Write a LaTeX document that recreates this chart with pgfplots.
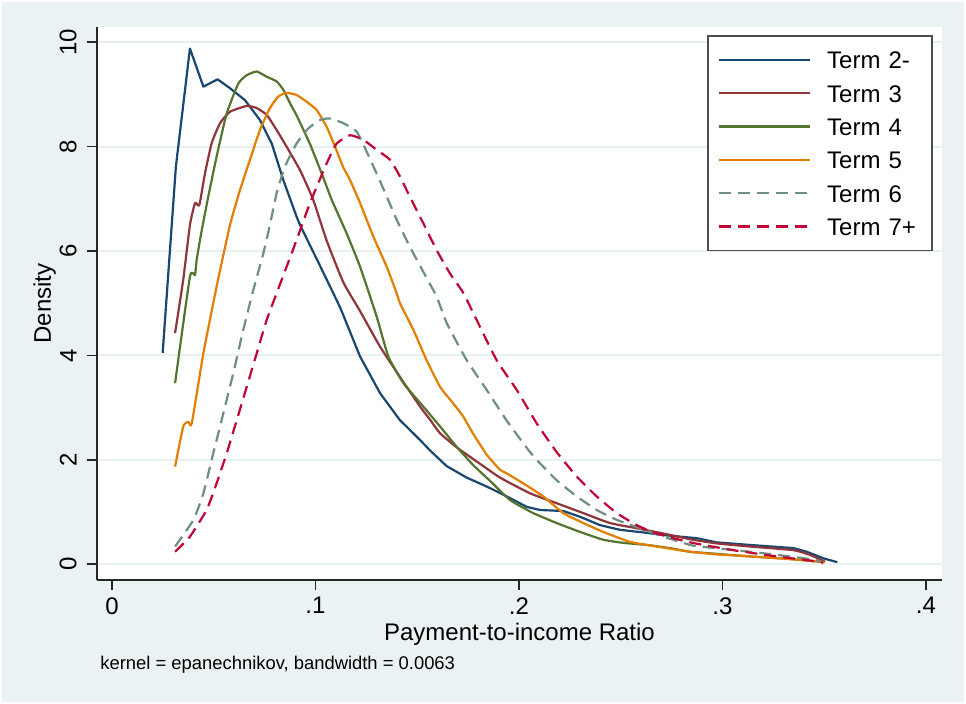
\documentclass[border=0pt]{standalone}
\usepackage{fontspec}
\setmainfont{Liberation Sans}
\usepackage{pgfplots}
\pgfplotsset{compat=1.18}
\definecolor{bgc}{RGB}{234,242,243}
\definecolor{gridc}{RGB}{232,240,242}
\definecolor{snavy}{RGB}{26,71,111}
\definecolor{smaroon}{RGB}{144,53,59}
\definecolor{sgreen}{RGB}{85,117,47}
\definecolor{sorange}{RGB}{227,126,0}
\definecolor{steal}{RGB}{110,142,132}
\definecolor{scran}{RGB}{193,5,52}
\begin{document}
\begin{tikzpicture}
\fill[white] (0,0) rectangle (483pt,352pt);
\fill[bgc] (1pt,1pt) rectangle (482pt,351pt);
\begin{axis}[
  at={(48.5pt,62pt)}, anchor=south west,
  scale only axis, width=422.5pt, height=276.5pt,
  xmin=-0.00737, xmax=0.40786, ymin=-0.301, ymax=10.293,
  axis background/.style={fill=white},
  axis lines*=left,
  axis line style={line width=0.8pt, color=black!85},
  xtick={0,0.1,0.2,0.3,0.4}, xticklabels={0,.1,.2,.3,.4},
  ytick={0,2,4,6,8,10}, yticklabels={0,2,4,6,8,10},
  tick align=outside, major tick length=5pt,
  tick style={line width=0.8pt, color=black!85},
  ymajorgrids, grid style={line width=1pt, color=gridc},
  tick label style={font=\fontsize{12}{14}\selectfont, inner sep=0pt},
  xticklabel style={anchor=north, yshift=-3.5pt},
  yticklabel style={xshift=-5pt, rotate=90, anchor=south},
  xlabel={Payment-to-income Ratio},
  ylabel={Density},
  xlabel style={at={(axis description cs:0.5,-0.0778)}, anchor=north, inner sep=0pt, font=\fontsize{12}{14}\selectfont},
  ylabel style={at={(axis description cs:-0.0757,0.5)}, rotate=0, anchor=north, inner sep=0pt, font=\fontsize{12}{14}\selectfont},
  clip=false,
  legend style={at={(1,1)}, anchor=north east, xshift=-4.5pt, yshift=-4pt,
    draw=black!70, line width=0.8pt, fill=white,
    font=\fontsize{12}{14}\selectfont,
    inner xsep=5pt, inner ysep=7.5pt, row sep=7.67pt, column sep=8pt,
    nodes={inner sep=0pt, text height=9pt, text depth=0pt, text width=47.5pt, align=left}},
  legend cell align=left,
  legend image code/.code={\draw[#1] (0pt,0pt) -- (45.5pt,0pt);},
  every axis plot/.append style={line width=1.1pt, line join=round, no markers},
]
\addplot[snavy] coordinates {
(0.0249,4.05)(0.0314,7.62)(0.0383,9.88)(0.0449,9.15)(0.0519,9.29)(0.058,9.12)(0.0654,8.89)
(0.0727,8.51)(0.0785,8.06)(0.0842,7.36)(0.0907,6.66)(0.0924,6.50)(0.1022,5.72)(0.112,4.93)
(0.1219,3.98)(0.1317,3.28)(0.1415,2.76)(0.1514,2.38)(0.1563,2.18)(0.1612,2.00)(0.1645,1.88)
(0.1743,1.66)(0.1841,1.49)(0.194,1.30)(0.2038,1.10)(0.2103,1.04)(0.2218,1.02)(0.23,0.91)
(0.2398,0.75)(0.2496,0.66)(0.2611,0.61)(0.2709,0.56)(0.2873,0.50)(0.2971,0.42)(0.3135,0.37)
(0.3348,0.31)(0.3414,0.24)(0.3495,0.115)(0.3564,0.04)};
\addlegendentry{Term 2-}
\addplot[smaroon, smooth, tension=0.3] coordinates {
(0.031,4.43)(0.035,5.45)(0.0383,6.5)(0.0408,6.92)(0.0429,6.88)(0.0457,7.49)(0.049,8.07)
(0.0531,8.45)(0.058,8.67)(0.0662,8.78)(0.0711,8.74)(0.076,8.61)(0.0809,8.32)(0.0858,8.0)
(0.0924,7.55)(0.0989,6.98)(0.1055,6.2)(0.1137,5.4)(0.1219,4.85)(0.1317,4.17)(0.1415,3.59)
(0.1514,3.02)(0.1563,2.77)(0.1612,2.51)(0.1694,2.24)(0.1792,1.97)(0.1907,1.66)(0.2054,1.36)
(0.2185,1.17)(0.2316,0.98)(0.2447,0.79)(0.2578,0.69)(0.2709,0.59)(0.284,0.48)(0.2971,0.40)
(0.3135,0.34)(0.3348,0.27)(0.343,0.18)(0.3504,0.05)};
\addlegendentry{Term 3}
\addplot[sgreen, smooth, tension=0.3] coordinates {
(0.031,3.47)(0.0383,5.51)(0.0408,5.54)(0.0416,5.83)(0.0441,6.4)(0.0473,7.04)(0.0514,7.81)
(0.0564,8.64)(0.0621,9.21)(0.0662,9.37)(0.0711,9.44)(0.076,9.34)(0.0809,9.25)(0.0842,9.09)
(0.0875,8.83)(0.0907,8.6)(0.0973,8.05)(0.103,7.49)(0.108,6.98)(0.1153,6.34)(0.1219,5.70)
(0.1301,4.74)(0.1358,3.98)(0.1432,3.47)(0.153,3.02)(0.1612,2.64)(0.1694,2.25)(0.1775,1.90)
(0.1857,1.6)(0.1956,1.23)(0.207,0.98)(0.2185,0.79)(0.23,0.62)(0.2414,0.47)(0.2513,0.41)
(0.2628,0.37)(0.2742,0.31)(0.284,0.24)(0.2971,0.20)(0.3135,0.15)(0.3332,0.10)(0.3479,0.05)};
\addlegendentry{Term 4}
\addplot[sorange, smooth, tension=0.3] coordinates {
(0.031,1.87)(0.035,2.64)(0.0375,2.73)(0.0392,2.70)(0.0449,4.04)(0.0514,5.32)(0.058,6.5)
(0.0629,7.17)(0.0678,7.75)(0.0727,8.32)(0.0776,8.74)(0.0817,8.96)(0.0858,9.03)(0.0907,8.99)
(0.0957,8.86)(0.1006,8.70)(0.1055,8.38)(0.1096,8.0)(0.1137,7.6)(0.117,7.36)(0.1219,6.92)
(0.1284,6.28)(0.135,5.70)(0.1399,5.19)(0.1415,5.0)(0.1481,4.49)(0.1546,3.91)(0.1612,3.40)
(0.1677,3.08)(0.1726,2.83)(0.1775,2.5)(0.1841,2.1)(0.1907,1.81)(0.194,1.74)(0.2021,1.55)
(0.2119,1.30)(0.2218,0.98)(0.2316,0.79)(0.2414,0.62)(0.2545,0.43)(0.2676,0.34)(0.284,0.24)
(0.2971,0.19)(0.3135,0.15)(0.3332,0.10)(0.350,0.04)};
\addlegendentry{Term 5}
\addplot[steal, smooth, tension=0.3, dash pattern=on 6pt off 3.5pt] coordinates {
(0.031,0.34)(0.04,0.85)(0.0449,1.36)(0.0498,2.13)(0.0547,2.89)(0.0596,3.66)(0.0645,4.49)
(0.0694,5.25)(0.0744,5.96)(0.0776,6.5)(0.0809,7.11)(0.085,7.62)(0.0907,8.06)(0.0965,8.35)
(0.1022,8.51)(0.1071,8.54)(0.1137,8.45)(0.1202,8.29)(0.1252,7.9)(0.1333,7.2)(0.1399,6.6)
(0.1464,6.08)(0.153,5.6)(0.1595,5.13)(0.1645,4.62)(0.1743,3.91)(0.1841,3.34)(0.194,2.75)
(0.2038,2.23)(0.2087,2.0)(0.2185,1.61)(0.2284,1.30)(0.2382,1.04)(0.2481,0.85)(0.2595,0.69)
(0.2709,0.53)(0.284,0.37)(0.2889,0.34)(0.3135,0.24)(0.3332,0.15)(0.3463,0.08)(0.349,0.04)};
\addlegendentry{Term 6}
\addplot[scran, smooth, tension=0.3, dash pattern=on 6pt off 3.5pt] coordinates {
(0.031,0.24)(0.0383,0.53)(0.0465,1.04)(0.0514,1.55)(0.0564,2.13)(0.0613,2.76)(0.0662,3.40)
(0.0711,4.04)(0.076,4.68)(0.0809,5.19)(0.0858,5.70)(0.0907,6.21)(0.0973,6.92)(0.1055,7.68)
(0.1104,8.06)(0.117,8.22)(0.1235,8.13)(0.1301,7.94)(0.1366,7.75)(0.1415,7.43)(0.1464,7.04)
(0.153,6.53)(0.1595,6.02)(0.1661,5.57)(0.1726,5.2)(0.1792,4.68)(0.189,3.91)(0.1989,3.34)
(0.2087,2.7)(0.2185,2.15)(0.2284,1.68)(0.2382,1.30)(0.2481,0.98)(0.2578,0.75)(0.2676,0.59)
(0.284,0.42)(0.3053,0.27)(0.3266,0.15)(0.3414,0.08)(0.3495,0.03)};
\addlegendentry{Term 7+}
\node[anchor=base west, inner sep=0pt, font=\fontsize{9.2}{11}\selectfont]
  at (axis description cs:0.00355,-0.1627) {kernel = epanechnikov, bandwidth = 0.0063};
\end{axis}
\pgfresetboundingbox
\path (0,0) rectangle (483pt,352pt);
\end{tikzpicture}
\end{document}
